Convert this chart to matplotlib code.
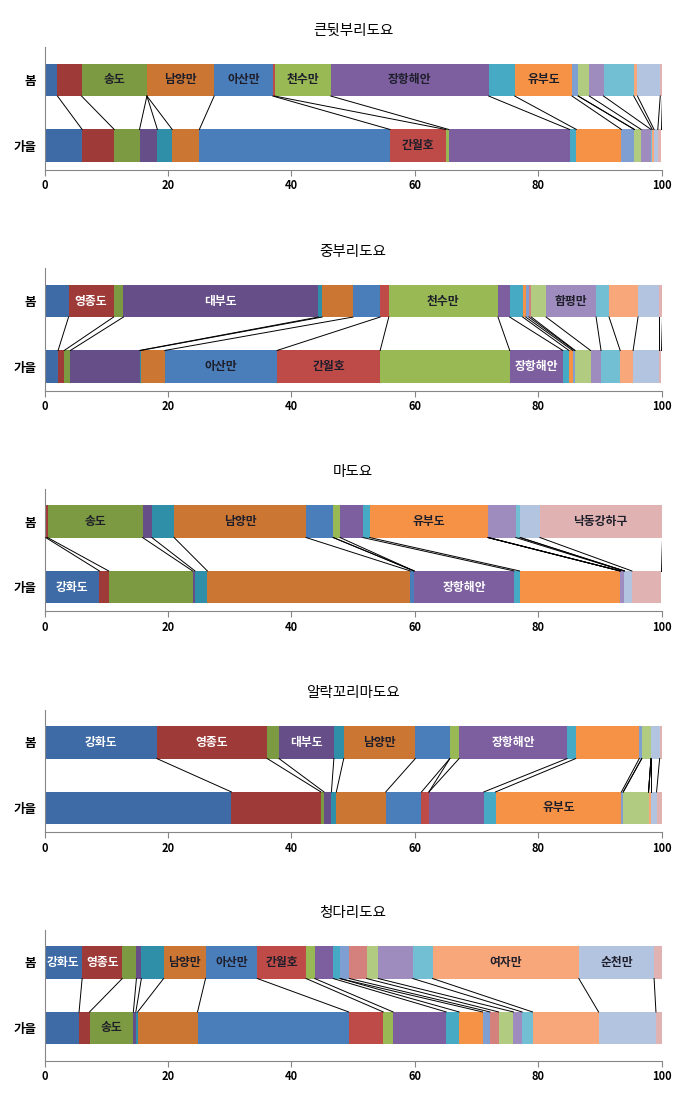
import numpy as np
import matplotlib
matplotlib.use("Agg")
import matplotlib.pyplot as plt

# =========================
# Data
# =========================

species = ["큰뒷부리도요", "중부리도요", "마도요", "알락꼬리마도요", "청다리도요"]
seasons = ["봄", "가을"]

sites = ["강화도", "영종도", "송도", "대부도", "시화호", "남양만", "아산만", "간월호",
         "천수만", "장항해안", "금강하구", "유부도", "곰소만", "영광", "목포",
         "함평만", "득량만", "여자만", "순천만", "낙동강하구"]

colors = ["#3E6BA6", "#9E3B39", "#7C9A41", "#664E88", "#2F8FA8", "#CC7633",
          "#4A7EBB", "#BE4B48", "#98B954", "#7D5FA0", "#46AAC5", "#F59245",
          "#7F9FD2", "#D4807D", "#B1CB80", "#9F8CBF", "#72BFD4", "#F8A77B",
          "#B3C4E1", "#E0B3B2"]

# percentage per site, same order as `sites`
bartailed_spring = [2.1, 3.9, 10.6, 0, 0, 10.9, 9.5, 0.3, 9.1, 25.6, 4.2, 9.3, 1.0, 0, 1.8, 2.3, 4.9, 0.6, 3.7, 0.2]
bartailed_autumn = [6.1, 5.2, 4.1, 2.9, 2.4, 4.4, 30.9, 9.0, 0.5, 19.6, 1.1, 7.3, 2.1, 0, 1.1, 1.6, 0.2, 0.3, 0.6, 0.6]

whimbrel_spring = [3.9, 7.3, 1.6, 31.6, 0.6, 5.0, 4.4, 1.4, 17.7, 1.9, 2.1, 0.5, 0.5, 0.4, 2.4, 8.1, 2.1, 4.7, 3.4, 0.4]
whimbrel_autumn = [2.2, 1.0, 1.0, 11.2, 0.2, 3.9, 18.2, 16.7, 21.0, 8.6, 1.0, 0.6, 0.3, 0.1, 2.5, 1.7, 3.1, 2.1, 4.2, 0.4]

curlew_spring = [0.2, 0.3, 15.4, 1.5, 3.6, 21.4, 4.4, 0, 1.1, 3.7, 1.1, 19.2, 0, 0, 0, 4.5, 0.7, 0, 3.2, 19.7]
curlew_autumn = [8.9, 1.5, 13.6, 0.4, 2.0, 32.9, 0.6, 0, 0, 16.2, 0.9, 16.3, 0, 0, 0, 0.6, 0.1, 0, 1.2, 4.8]

fareastern_spring = [18.2, 17.9, 1.9, 8.9, 1.6, 11.6, 5.6, 0, 1.5, 17.5, 1.4, 10.3, 0.4, 0, 1.5, 0, 0, 0, 1.4, 0.3]
fareastern_autumn = [30.3, 14.5, 0.5, 1.2, 0.8, 8.0, 5.8, 1.2, 0, 8.9, 1.9, 20.4, 0.3, 0, 4.1, 0, 0, 0.4, 0.9, 0.8]

greenshank_spring = [6.1, 6.5, 2.3, 0.8, 3.6, 6.8, 8.4, 7.9, 1.4, 3.0, 1.1, 0, 1.5, 2.8, 1.9, 5.6, 3.2, 23.7, 12.2, 1.2]
greenshank_autumn = [5.6, 1.7, 7.1, 0.4, 0.3, 9.7, 24.5, 5.6, 1.6, 8.6, 2.1, 3.8, 1.2, 1.4, 2.4, 1.4, 1.7, 10.7, 9.3, 0.9]

panel_data = [
    (bartailed_spring, bartailed_autumn),
    (whimbrel_spring, whimbrel_autumn),
    (curlew_spring, curlew_autumn),
    (fareastern_spring, fareastern_autumn),
    (greenshank_spring, greenshank_autumn),
]

# segment labels: (season index, site, text colour)
DARK = "#1E1E2A"
WHITE = "white"
panel_labels = [
    [(0, "송도", DARK), (0, "남양만", DARK), (0, "아산만", DARK), (0, "천수만", DARK),
     (0, "장항해안", DARK), (0, "유부도", DARK), (1, "간월호", DARK)],
    [(0, "영종도", WHITE), (0, "대부도", WHITE), (0, "천수만", DARK), (0, "함평만", DARK),
     (1, "아산만", DARK), (1, "간월호", DARK), (1, "장항해안", WHITE)],
    [(0, "송도", DARK), (0, "남양만", DARK), (0, "유부도", DARK), (0, "낙동강하구", DARK),
     (1, "강화도", WHITE), (1, "장항해안", WHITE)],
    [(0, "강화도", WHITE), (0, "영종도", WHITE), (0, "대부도", WHITE), (0, "남양만", DARK),
     (0, "장항해안", WHITE), (1, "유부도", DARK)],
    [(0, "강화도", WHITE), (0, "영종도", WHITE), (0, "남양만", DARK), (0, "아산만", DARK),
     (0, "간월호", DARK), (0, "여자만", DARK), (0, "순천만", DARK), (1, "송도", DARK)],
]

# =========================
# Layout (pixels)
# =========================

FIG_W, FIG_H = 685, 1101
AX_LEFT, AX_RIGHT = 44.5, 661.5
SPRING_Y = [80.0, 301.0, 521.5, 742.5, 962.5]   # centre of the 봄 bar
UNIT_PX = 65.5                                  # pixels between the two bars
Y_BOTTOM = [-0.37, -0.37, -0.37, -0.37, -0.5]   # where the x axis sits
BAR_H = 0.49
AXIS_GREY = "#868686"


def main():
    plt.rcParams["font.family"] = ["Noto Sans CJK KR", "DejaVu Sans"]
    fig = plt.figure(figsize=(FIG_W / 100, FIG_H / 100), dpi=100)

    ypos = {0: 1, 1: 0}  # 봄 on top, 가을 below

    for p, name in enumerate(species):
        top = SPRING_Y[p] - 0.5 * UNIT_PX
        height = (1.5 - Y_BOTTOM[p]) * UNIT_PX
        ax = fig.add_axes([AX_LEFT / FIG_W, 1 - (top + height) / FIG_H,
                           (AX_RIGHT - AX_LEFT) / FIG_W, height / FIG_H])

        spring, autumn = panel_data[p]
        ends = []
        for s, vals in enumerate((spring, autumn)):
            vals = np.array(vals, dtype=float)
            left = np.concatenate([[0], np.cumsum(vals)[:-1]])
            ax.barh([ypos[s]] * len(vals), vals, left=left, height=BAR_H,
                    color=colors, linewidth=0)
            ends.append(left + vals)

        # series lines between the two bars
        for i in range(len(sites)):
            ax.plot([ends[0][i], ends[1][i]], [1 - BAR_H / 2, BAR_H / 2],
                    color="black", lw=0.7, zorder=3)

        # labels inside segments
        for s, site, tc in panel_labels[p]:
            i = sites.index(site)
            vals = (spring, autumn)[s]
            x = ends[s][i] - vals[i] / 2
            ax.text(x, ypos[s], site, ha="center", va="center",
                    fontsize=8.5, fontweight="bold", color=tc, zorder=4)

        ax.set_xlim(0, 100)
        ax.set_ylim(Y_BOTTOM[p], 1.5)
        ax.set_xticks(range(0, 101, 20))
        ax.set_yticks([1, 0])
        ax.set_yticklabels(seasons, fontsize=9, fontweight="bold")
        for lbl in ax.get_xticklabels():
            lbl.set_fontweight("bold")
            lbl.set_fontsize(8)
        ax.tick_params(axis="y", length=0, pad=6)
        ax.tick_params(axis="x", length=4, width=0.8, color=AXIS_GREY, pad=3)

        for side in ("top", "right"):
            ax.spines[side].set_visible(False)
        for side in ("left", "bottom"):
            ax.spines[side].set_color(AXIS_GREY)
            ax.spines[side].set_linewidth(0.8)

        ax.set_title(name, fontsize=10.5, pad=9)

    fig.savefig("out.png", dpi=100)
    plt.close(fig)


if __name__ == "__main__":
    main()
